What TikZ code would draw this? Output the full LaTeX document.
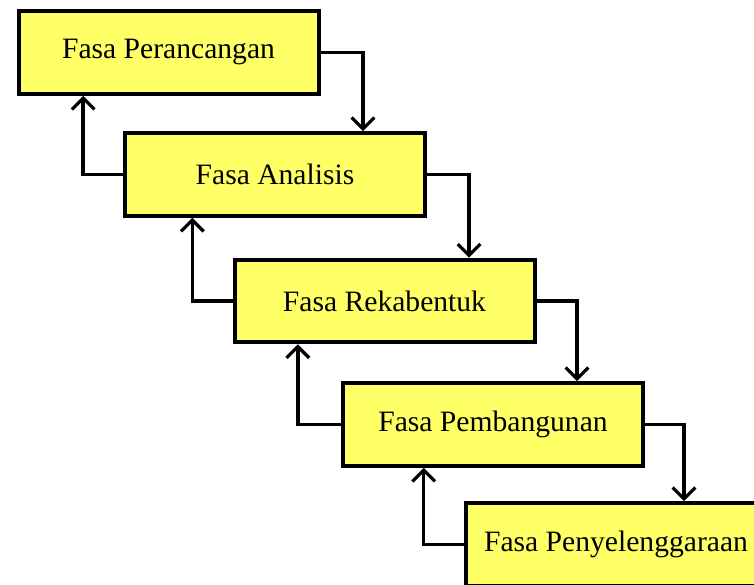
\documentclass[tikz,border=0pt]{standalone}
\usepackage{fontspec}
\setmainfont{Liberation Serif}
\usetikzlibrary{arrows.meta,shadows,calc}
\definecolor{boxyellow}{RGB}{255,255,102}
\tikzset{
  phase/.style={draw=black, line width=3pt, fill=boxyellow, minimum width=225pt, minimum height=62pt,
    inner sep=0pt, font=\fontsize{22.2}{26}\selectfont,
    drop shadow={opacity=0.35, shadow xshift=1.5pt, shadow yshift=-1.5pt}},
  arr/.style={draw=black, line width=2.6pt,
    -{Straight Barb[length=8.5pt,width=17pt,line width=2.4pt]}}
}
\begin{document}
\begin{tikzpicture}[x=0.75pt,y=-0.75pt]
\useasboundingbox (0,0) rectangle (754,585);
\clip (0,0) rectangle (754,585);
\node[phase] (b1) at (168.5,52.5) {Fasa Perancangan};
\node[phase] (b2) at (275,174.5) {Fasa Analisis};
\node[phase] (b3) at (384.5,301) {Fasa Rekabentuk};
\node[phase] (b4) at (493,424.5) {Fasa Pembangunan};
\node[phase] (b5) at (616,544.5) {Fasa Penyelenggaraan};
% forward arrows
\draw[arr] (b1.east) -| ([xshift=66pt]b2.north);
\draw[arr] (b2.east) -| ([xshift=63.4pt]b3.north);
\draw[arr] (b3.east) -| ([xshift=63pt]b4.north);
\draw[arr] (b4.east) -| ([xshift=51pt]b5.north);
% feedback arrows
\draw[arr] (b2.west) -| ([xshift=-64pt]b1.south);
\draw[arr] (b3.west) -| ([xshift=-62pt]b2.south);
\draw[arr] (b4.west) -| ([xshift=-65pt]b3.south);
\draw[arr] (b5.west) -| ([xshift=-52pt]b4.south);
\end{tikzpicture}
\end{document}
